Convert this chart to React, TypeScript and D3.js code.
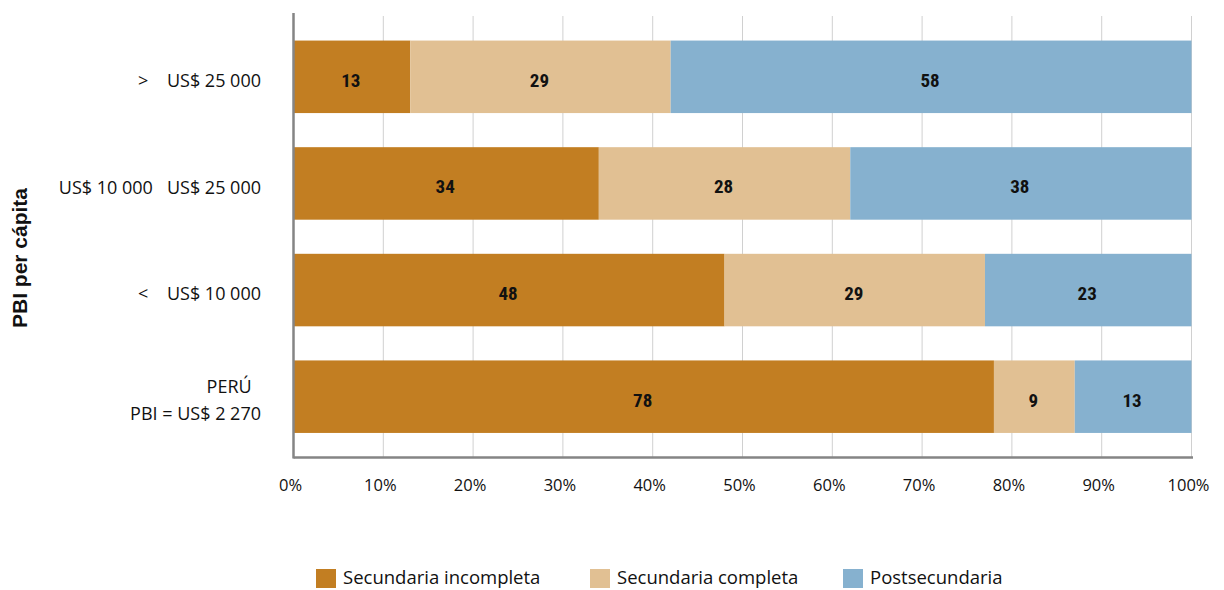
import React, { useEffect, useRef } from 'react';
import * as d3 from 'd3';

// rows from top to bottom
const categories = ['gt25', 'mid', 'lt10', 'peru'];
const categoryLabels = [
  ['>    US$ 25 000'],
  ['US$ 10 000   US$ 25 000'],
  ['<    US$ 10 000'],
  ['PERÚ  ', 'PBI = US$ 2 270'],
];
const seriesNames = ['Secundaria incompleta', 'Secundaria completa', 'Postsecundaria'];
const secIncompleta = [13, 34, 48, 78];
const secCompleta = [29, 28, 29, 9];
const postsecundaria = [58, 38, 23, 13];
const xTicks = [0, 10, 20, 30, 40, 50, 60, 70, 80, 90, 100];
const colors = ['#c27e22', '#e1c093', '#86b1cf'];

export default function App() {
  const ref = useRef<SVGSVGElement>(null);

  useEffect(() => {
    if (!ref.current) return;
    const svg = d3.select(ref.current);
    svg.selectAll('*').remove();

    const x0 = 293.5;
    const x1 = 1191.5;
    const axisTop = 13;
    const axisBottom = 457.5;

    const rows = categories.map((c, i) => ({
      cat: c,
      [seriesNames[0]]: secIncompleta[i],
      [seriesNames[1]]: secCompleta[i],
      [seriesNames[2]]: postsecundaria[i],
    }));

    const x = d3.scaleLinear().domain([0, 100]).range([x0, x1]);
    const y = d3.scaleBand<string>().domain(categories).range([23.5, 450]).paddingInner(0.32).paddingOuter(0.16);

    const stack = d3.stack<any>().keys(seriesNames);
    const layers = stack(rows);

    // gridlines
    svg.append('g')
      .selectAll('line')
      .data(xTicks.slice(1))
      .join('line')
      .attr('x1', d => x(d))
      .attr('x2', d => x(d))
      .attr('y1', 16)
      .attr('y2', axisBottom)
      .attr('stroke', '#d0d0d0')
      .attr('stroke-width', 1);

    // bars
    const g = svg.append('g');
    layers.forEach((layer, li) => {
      g.append('g')
        .selectAll('rect')
        .data(layer)
        .join('rect')
        .attr('x', d => x(d[0]))
        .attr('width', d => x(d[1]) - x(d[0]))
        .attr('y', d => y(d.data.cat)!)
        .attr('height', y.bandwidth())
        .attr('fill', colors[li]);

      g.append('g')
        .selectAll('text')
        .data(layer)
        .join('text')
        .attr('x', d => (x(d[0]) + x(d[1])) / 2 - 1)
        .attr('y', d => y(d.data.cat)! + y.bandwidth() / 2 + 3)
        .attr('dy', '0.36em')
        .attr('text-anchor', 'middle')
        .attr('font-family', "'Liberation Sans Narrow', 'Roboto Condensed', Roboto, sans-serif")
        .attr('font-weight', 'bold')
        .attr('font-size', 19)
        .attr('fill', '#111')
        .text(d => String(d[1] - d[0]));
    });

    // axes lines
    svg.append('line')
      .attr('x1', x0).attr('x2', x0)
      .attr('y1', axisTop).attr('y2', axisBottom + 1)
      .attr('stroke', '#858585').attr('stroke-width', 2.5);
    svg.append('line')
      .attr('x1', x0).attr('x2', 1193)
      .attr('y1', axisBottom).attr('y2', axisBottom)
      .attr('stroke', '#858585').attr('stroke-width', 2.5);

    // x tick labels
    svg.append('g')
      .selectAll('text')
      .data(xTicks)
      .join('text')
      .attr('x', d => x(d) - 3)
      .attr('y', 491)
      .attr('text-anchor', 'middle')
      .attr('font-family', "'Open Sans', sans-serif")
      .attr('font-size', 16.5)
      .attr('fill', '#111')
      .text(d => `${d}%`);

    // y category labels
    categories.forEach((c, i) => {
      const lines = categoryLabels[i];
      const cy = y(c)! + y.bandwidth() / 2 + 4;
      const lh = 27;
      const t = svg.append('text')
        .attr('text-anchor', 'end')
        .attr('font-family', "'Open Sans', sans-serif")
        .attr('font-size', 18)
        .attr('fill', '#111')
        .attr('xml:space', 'preserve')
        .style('white-space', 'pre');
      lines.forEach((ln, j) => {
        t.append('tspan')
          .attr('x', 261)
          .attr('y', cy + (j - (lines.length - 1) / 2) * lh)
          .attr('dy', '0.35em')
          .text(ln);
      });
    });

    // y title
    svg.append('text')
      .attr('transform', 'translate(27,258) rotate(-90)')
      .attr('text-anchor', 'middle')
      .attr('font-family', "'Liberation Sans', Arial, sans-serif")
      .attr('font-weight', 'bold')
      .attr('font-size', 21)
      .attr('fill', '#111')
      .text('PBI per cápita');

    // legend
    const legendX = [316, 590, 843];
    const lg = svg.append('g')
      .selectAll('g')
      .data(seriesNames)
      .join('g')
      .attr('transform', (d, i) => `translate(${legendX[i]},569)`);
    lg.append('rect')
      .attr('width', 20).attr('height', 19)
      .attr('fill', (d, i) => colors[i]);
    lg.append('text')
      .attr('x', 27)
      .attr('y', 15)
      .attr('font-family', "'Open Sans', sans-serif")
      .attr('font-size', 18.5)
      .attr('fill', '#111')
      .text(d => d);
  }, []);

  return (
    <svg ref={ref} width={1224} height={590} viewBox="0 0 1224 590"
      style={{ display: 'block', position: 'absolute', left: 0, top: 0, background: '#fff' }} />
  );
}
